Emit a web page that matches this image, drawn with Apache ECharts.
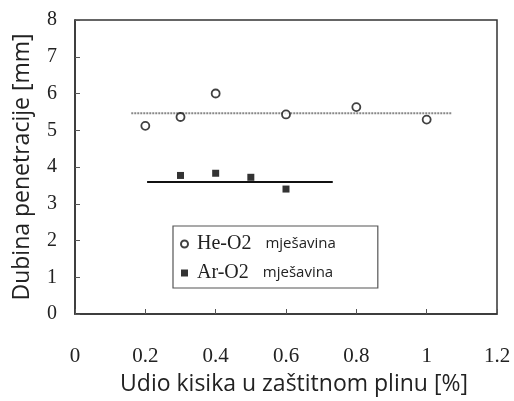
<!DOCTYPE html>
<html><head><meta charset="utf-8">
<script src="https://cdn.jsdelivr.net/npm/echarts@6/dist/echarts.min.js"></script>
<style>html,body{margin:0;padding:0;background:#fff}#c{width:514px;height:401px}</style>
</head><body><div id="c"></div>
<script>
const heX = [0.2, 0.3, 0.4, 0.6, 0.8, 1.0];
const heY = [5.12, 5.36, 6.0, 5.43, 5.63, 5.29];
const arX = [0.3, 0.4, 0.5, 0.6];
const arY = [3.77, 3.83, 3.72, 3.40];
const heLineX = [0.16, 1.07];
const heLineY = [5.46, 5.46];
const arLineX = [0.205, 0.733];
const arLineY = [3.59, 3.59];
const seriesNames = ['He-O2', 'Ar-O2'];
const legendSuffix = 'mješavina';
const xTitle = 'Udio kisika u zaštitnom plinu [%]';
const yTitle = 'Dubina penetracije [mm]';

const zip = (a, b) => a.map((v, i) => [v, b[i]]);
const serif = 'Liberation Serif';
const sans = 'Open Sans';

const chart = echarts.init(document.getElementById('c'));
chart.setOption({
  animation: false,
  grid: { left: 75, top: 20, right: 17, bottom: 83, show: true, borderColor: '#333', borderWidth: 1.5 },
  xAxis: {
    type: 'value', min: 0, max: 1.2, interval: 0.2,
    name: xTitle, nameLocation: 'middle', nameGap: 59,
    nameTextStyle: { fontFamily: sans, fontSize: 23, color: '#222', padding: [0, 0, 0, 16] },
    axisLine: { lineStyle: { color: '#333', width: 1.5 } },
    axisTick: { inside: true, length: 5, lineStyle: { color: '#555' } },
    axisLabel: { margin: 32, fontFamily: serif, fontSize: 21, color: '#222',
      formatter: v => String(Math.round(v * 10) / 10) },
    splitLine: { show: false }
  },
  yAxis: {
    type: 'value', min: 0, max: 8, interval: 1,
    name: yTitle, nameLocation: 'middle', nameGap: 41, nameRotate: 90,
    nameTextStyle: { fontFamily: sans, fontSize: 23, color: '#222' },
    axisLine: { show: true, lineStyle: { color: '#333', width: 1.5 } },
    axisTick: { show: true, inside: true, length: 5, lineStyle: { color: '#555' } },
    axisLabel: { margin: 18, fontFamily: serif, fontSize: 20, color: '#222' },
    splitLine: { show: false }
  },
  legend: {
    data: seriesNames,
    orient: 'vertical', left: 173, top: 226,
    padding: [8, 42, 5, 7], itemGap: 9,
    itemWidth: 7, itemHeight: 7,
    borderColor: '#555', borderWidth: 1.2, backgroundColor: '#fff',
    formatter: n => '{a|' + n + '}{b|' + legendSuffix + '}',
    textStyle: {
      rich: {
        a: { fontFamily: serif, fontSize: 20, lineHeight: 20, color: '#222', padding: [0, 0, 0, 4] },
        b: { fontFamily: sans, fontSize: 15, lineHeight: 20, color: '#222', padding: [0, 0, 0, 14] }
      }
    }
  },
  series: [
    { type: 'line', data: zip(heLineX, heLineY), symbol: 'none', silent: true,
      lineStyle: { color: '#888', width: 2, type: [2, 1] }, z: 1 },
    { type: 'line', data: zip(arLineX, arLineY), symbol: 'none', silent: true,
      lineStyle: { color: '#111', width: 2 }, z: 1 },
    { name: seriesNames[0], type: 'scatter', data: zip(heX, heY), symbol: 'circle', symbolSize: 8,
      itemStyle: { color: '#fff', borderColor: '#111', borderWidth: 1.8 }, z: 3 },
    { name: seriesNames[1], type: 'scatter', data: zip(arX, arY), symbol: 'rect', symbolSize: 7,
      itemStyle: { color: '#000' }, z: 3 }
  ]
});
</script></body></html>
